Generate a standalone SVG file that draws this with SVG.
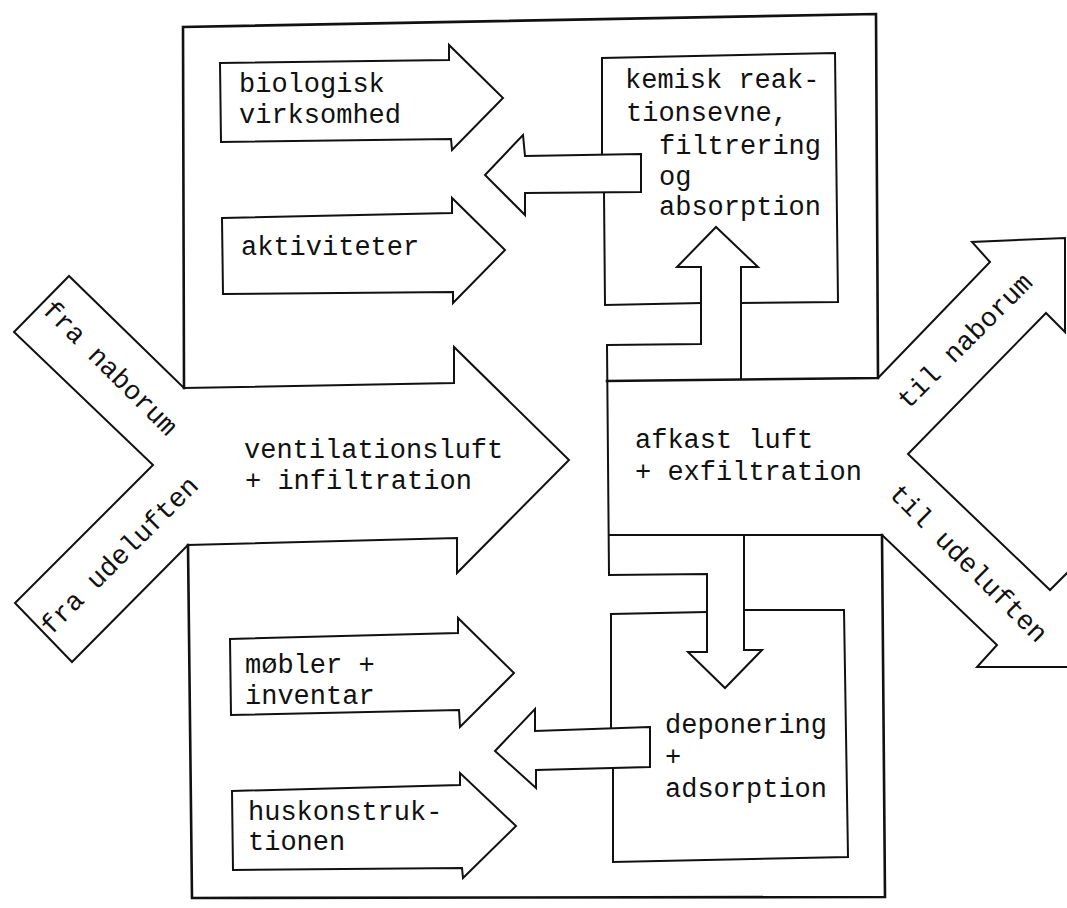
<svg xmlns="http://www.w3.org/2000/svg" width="1067" height="908" viewBox="0 0 1067 908">
<style>
.o{fill:none;stroke:#111;stroke-width:2;stroke-linejoin:miter;stroke-linecap:square}
.w{fill:none;stroke:#111;stroke-width:2.6;stroke-linejoin:miter;stroke-linecap:square}
.a{fill:#fff;stroke:#111;stroke-width:2;stroke-linejoin:miter}
text{font-family:"Liberation Mono","Courier New",monospace;font-size:27px;fill:#111}
</style>
<rect width="1067" height="908" fill="#fff"/>
<g id="room">
<path class="w" d="M607,381 L878,378 L876,14 L183,27 L184,388"/>
<path class="w" d="M188,545 L192,898 L885,897 L882,535"/>
<path class="o" d="M882,535 L609,535"/>
</g>
<g id="fra">
<path class="o" d="M184,388 L69,276 L14,332 L153,465 L15,603 L72,662 L188,545"/>
<text transform="translate(41,311) rotate(45)">fra naborum</text>
<text transform="translate(51,636) rotate(-45)">fra udeluften</text>
</g>
<g id="til">
<path class="o" d="M882,535 L997,645 L977,667 L1069,667 L1069,571 L1050,590 L908,454 L1046,313 L1065,332 L1065,238 L972,242 L990,262 L878,378"/>
<text transform="translate(908,410) rotate(-45)">til naborum</text>
<text transform="translate(888,495) rotate(45)">til udeluften</text>
</g>
<g id="ventilation">
<path class="o" d="M184,388 L454,383 L454,347 L569,460 L457,573 L457,538 L188,545"/>
<text x="244" y="458">ventilationsluft</text>
<text x="245" y="489">+ infiltration</text>
</g>
<g id="afkast">
<path class="o" d="M607,345 L609,575"/>
<text x="635" y="448">afkast luft</text>
<text x="635" y="480">+ exfiltration</text>
</g>
<g id="biologisk">
<polygon class="a" points="220,63 449,60 449,45 503,98 452,150 451,139 221,142"/>
<text x="239" y="92">biologisk</text>
<text x="239" y="123">virksomhed</text>
</g>
<g id="aktiviteter">
<polygon class="a" points="222,218 452,213 452,198 505,250 453,303 453,292 223,294"/>
<text x="241" y="255">aktiviteter</text>
</g>
<g id="kemisk">
<path class="o" d="M604,192 L605,305 L701,303"/>
<path class="o" d="M602,154 L602,58 L835,53 L838,302 L741,303"/>
<text x="625" y="88">kemisk reak-</text>
<text x="626" y="121">tionsevne,</text>
<text x="659" y="154">filtrering</text>
<text x="659" y="185">og</text>
<text x="659" y="215">absorption</text>
</g>
<g id="moebler">
<polygon class="a" points="230,639 458,633 458,618 514,673 460,727 459,710 231,715"/>
<text x="245" y="673">møbler +</text>
<text x="245" y="704">inventar</text>
</g>
<g id="huskonstruktionen">
<polygon class="a" points="232,791 460,785 460,773 516,826 463,878 462,868 233,870"/>
<text x="248" y="820">huskonstruk-</text>
<text x="248" y="850">tionen</text>
</g>
<g id="deponering">
<path class="o" d="M611,728 L611,614 L706,612"/>
<path class="o" d="M746,610 L844,610 L848,857 L613,862 L613,768"/>
<text x="665" y="733">deponering</text>
<text x="665" y="765">+</text>
<text x="665" y="797">adsorption</text>
</g>
<g id="connectors">
<polygon class="a" points="641,154 525,156 523,135 485,175 525,215 525,193 641,192"/>
<path class="o" d="M607,345 L701,344 L701,267 L677,267 L716,227 L758,267 L741,267 L741,379"/>
<path class="o" d="M609,575 L707,574 L707,652 L688,652 L725,688 L762,650 L744,650 L744,535"/>
<polygon class="a" points="650,727 535,731 535,709 495,751 536,788 536,770 650,767"/>
</g>
</svg>
